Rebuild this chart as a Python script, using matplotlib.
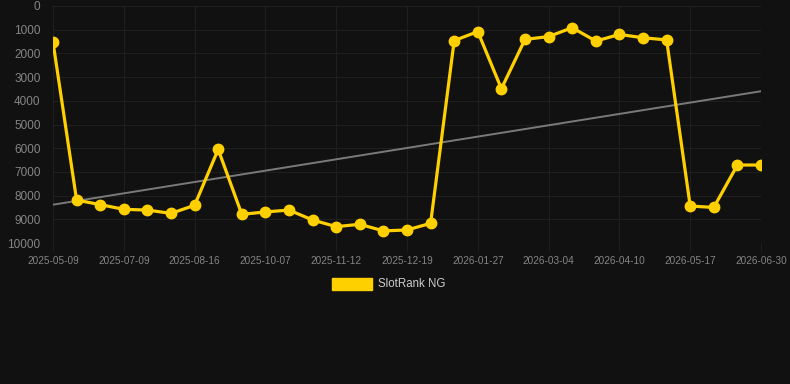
import numpy as np
import matplotlib
matplotlib.use("Agg")
import matplotlib.pyplot as plt

plt.rcParams['font.family'] = ['Liberation Sans', 'DejaVu Sans']

tick_labels = ["2025-05-09", "2025-07-09", "2025-08-16", "2025-10-07", "2025-11-12",
               "2025-12-19", "2026-01-27", "2026-03-04", "2026-04-10", "2026-05-17",
               "2026-06-30"]
ranks = [1520, 8190, 8380, 8580, 8610, 8750, 8410, 6050, 8790, 8690,
         8610, 9030, 9310, 9210, 9490, 9450, 9170, 1460, 1080, 3490,
         1410, 1290, 915, 1480, 1200, 1340, 1430, 8440, 8500, 6710, 6710]
series_name = "SlotRank NG"

bg = "#111111"
fig = plt.figure(figsize=(7.9, 3.84), dpi=100, facecolor=bg)
ax = fig.add_axes([53/790, 1-243/384, (761-53)/790, (243-6)/384])
ax.set_facecolor(bg)

x = np.arange(len(ranks))
slope, intercept = np.polyfit(x, ranks, 1)
ax.plot(x, slope*x + intercept, color="#7a7a7a", lw=1.4, zorder=2)
ax.plot(x, ranks, color="#FFD000", lw=2.3, marker="o", markersize=7.5,
        zorder=3, solid_joinstyle="round")

ax.set_xlim(0, len(ranks)-1)
ax.set_ylim(10000, 0)
ax.set_yticks(np.arange(0, 10001, 1000))
ax.set_xticks(np.arange(0, len(ranks), 3))
ax.set_xticklabels(tick_labels)
ax.grid(True, color="#1f1f1f", lw=0.8)
ax.set_axisbelow(True)
for s in ax.spines.values():
    s.set_visible(False)
ax.tick_params(axis='y', colors="#858585", labelsize=8.5, length=0, pad=9)
ax.tick_params(axis='x', colors="#1f1f1f", labelcolor="#858585", labelsize=7.2,
               length=6, pad=3)

# legend
fig.patches.append(matplotlib.patches.Rectangle((332/790, 1-290/384), 40/790, 12/384,
                   transform=fig.transFigure, color="#FFD000"))
fig.text(378/790, 1-284/384, series_name, color="#cccccc", fontsize=8.3, va="center", ha="left")

fig.savefig("out.png", dpi=100, facecolor=bg)
